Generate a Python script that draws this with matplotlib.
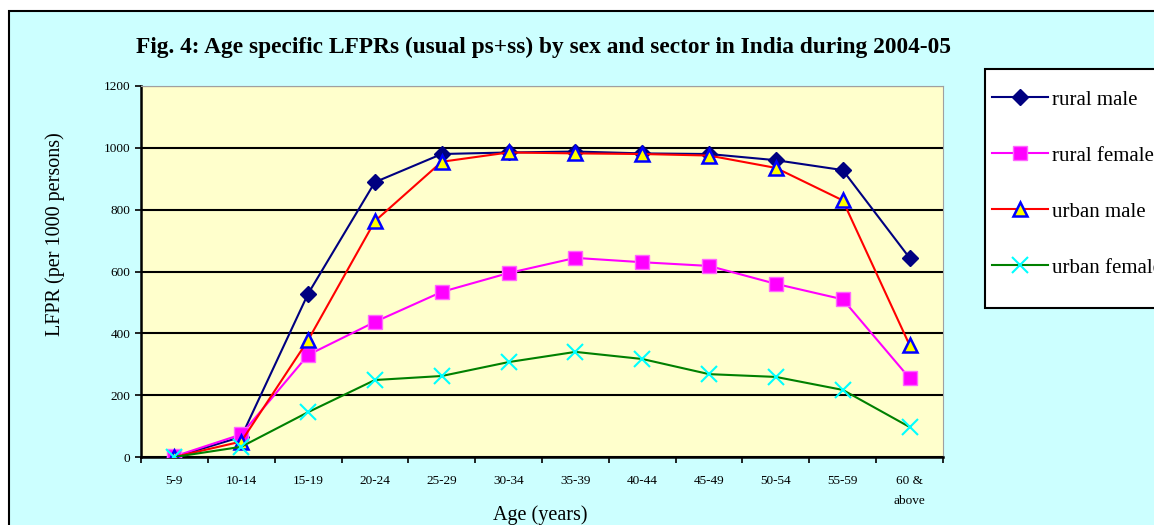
import matplotlib
matplotlib.use('Agg')
import matplotlib.pyplot as plt
from matplotlib.patches import Rectangle

plt.rcParams['font.family'] = ['Liberation Serif', 'DejaVu Serif']

ages = ['5-9', '10-14', '15-19', '20-24', '25-29', '30-34', '35-39',
        '40-44', '45-49', '50-54', '55-59', '60 &\nabove']
rural_male = [0, 65, 528, 889, 980, 985, 988, 982, 980, 960, 928, 644]
rural_female = [2, 73, 330, 437, 534, 595, 644, 630, 618, 560, 510, 255]
urban_male = [0, 50, 378, 763, 955, 985, 982, 980, 975, 935, 830, 362]
urban_female = [0, 33, 145, 249, 262, 307, 340, 317, 268, 259, 217, 97]

W, H = 1154, 525
fig = plt.figure(figsize=(W / 100, H / 100), dpi=100)
fig.patch.set_facecolor('white')
# outer chart frame
fig.patches.append(Rectangle((9 / W, -0.01), 1.0, 1 - 11 / H + 0.01,
                             transform=fig.transFigure, facecolor='#CCFFFF',
                             edgecolor='black', linewidth=1.5, zorder=-2))
# legend box (runs off the right edge like the original)
fig.patches.append(Rectangle((985 / W, 1 - 308 / H), 0.2, (308 - 69) / H,
                             transform=fig.transFigure, facecolor='white',
                             edgecolor='black', linewidth=1.5, zorder=-1))

ax = fig.add_axes([141 / W, 1 - 457 / H, (943 - 141) / W, (457 - 86) / H])
ax.set_facecolor('#FFFFCC')
x = range(len(ages))

ax.plot(x, rural_male, color='#000080', marker='D', markersize=8,
        markerfacecolor='#000080', linewidth=1.5, label='rural male', zorder=3)
ax.plot(x, rural_female, color='#FF00FF', marker='s', markersize=9.5,
        markerfacecolor='#FF00FF', markeredgecolor='#FF66FF', linewidth=1.5,
        label='rural female', zorder=3)
ax.plot(x, urban_male, color='#FF0000', marker='^', markersize=10.5,
        markerfacecolor='#FFFF00', markeredgecolor='#0000FF', markeredgewidth=1.8,
        linewidth=1.5, label='urban male', zorder=3)
ax.plot(x, urban_female, color='#008000', marker='x', markersize=11,
        markeredgecolor='#00FFFF', markeredgewidth=1.5, linewidth=1.5,
        label='urban female', zorder=3)

ax.set_xlim(-0.5, len(ages) - 0.5)
ax.set_ylim(0, 1200)
ax.set_yticks(range(0, 1201, 200))
ax.yaxis.grid(True, color='black', linewidth=1.5)
ax.set_axisbelow(True)
ax.set_xticks(list(x))
ax.set_xticklabels(ages, fontsize=9.5, linespacing=1.9)
ax.set_xticks([i - 0.5 for i in range(len(ages) + 1)], minor=True)
ax.tick_params(axis='x', which='major', length=0, pad=13)
ax.tick_params(axis='x', which='minor', length=4, width=1.2, direction='out')
ax.tick_params(axis='y', labelsize=9.5, length=4, width=1.2)

ax.spines['left'].set_linewidth(1.8)
ax.spines['bottom'].set_linewidth(1.8)
ax.spines['top'].set_color('#A0A0A0')
ax.spines['right'].set_color('#A0A0A0')

fig.text(55 / W, 1 - 234 / H, 'LFPR (per 1000 persons)', rotation=90,
         ha='center', va='center', fontsize=14.5)
fig.text(540 / W, 1 - 515 / H, 'Age (years)', ha='center', va='center',
         fontsize=14.5)

fig.text(544 / W, 1 - 47 / H,
         'Fig. 4: Age specific LFPRs (usual ps+ss) by sex and sector in India during 2004-05',
         ha='center', va='center', fontsize=16.8, fontweight='bold')

fig.legend(loc='upper left', bbox_to_anchor=(992 / W, 1 - 90 / H),
           fontsize=15, frameon=False, labelspacing=1.75, borderpad=0,
           handlelength=2.7, handletextpad=0.2, borderaxespad=0)

fig.savefig('out.png', dpi=100)
